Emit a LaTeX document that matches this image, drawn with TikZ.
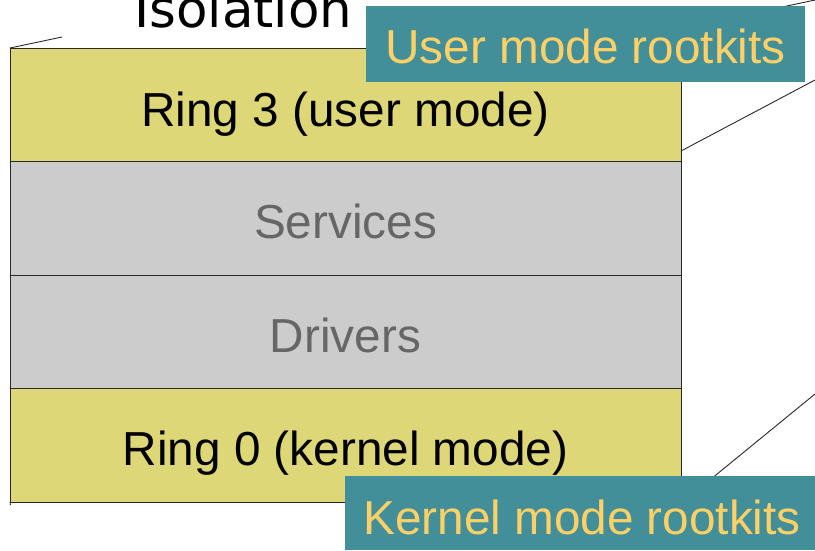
\documentclass[tikz,border=0pt]{standalone}
\usepackage{fontspec}
\setmainfont{Liberation Sans}
\newfontfamily\titlefont{DejaVu Sans}
\definecolor{ringfill}{RGB}{221,215,119}
\definecolor{layerfill}{RGB}{204,204,204}
\definecolor{layertext}{RGB}{102,102,102}
\definecolor{tealbox}{RGB}{66,142,153}
\definecolor{tealtext}{RGB}{255,208,102}
\definecolor{edge}{RGB}{40,40,40}
\begin{document}
\begin{tikzpicture}[x=1pt,y=-1pt,
  band/.style={draw=edge,line width=1pt,minimum width=671pt,minimum height=113.5pt,
    inner sep=0pt,anchor=north west,outer sep=0pt},
  ringband/.style={band,fill=ringfill},
  layerband/.style={band,fill=layerfill},
  bandlabel/.style={anchor=base,font=\fontsize{47.7}{56}\selectfont},
  callout/.style={fill=tealbox,inner sep=0pt,outer sep=0pt,anchor=north west},
  callouttext/.style={anchor=base,text=tealtext,font=\fontsize{47.7}{56}\selectfont},
  persp/.style={draw=edge,line width=0.9pt}]
\useasboundingbox (0,0) rectangle (815,550);

% the four layers of the stack
\node[ringband]  (r3)  at (10,48)    {};
\node[layerband] (svc) at (10,161.5) {};
\node[layerband] (drv) at (10,275)   {};
\node[ringband]  (r0)  at (10,388.5) {};

\node[bandlabel] (r3t)  at (345.5,126) {Ring 3 (user mode)};
\node[bandlabel,text=layertext] (svct) at (345.5,238) {Services};
\node[bandlabel,text=layertext] (drvt) at (345.5,352) {Drivers};
\node[bandlabel] (r0t)  at (345.5,465) {Ring 0 (kernel mode)};

% heading
\node[anchor=base west,inner sep=0pt,font=\titlefont\fontsize{51.5}{60}\selectfont] (iso) at (134,27) {Isolation};

% perspective lines running out of the stack
\coordinate (tl) at (r3.north west);
\coordinate (tlend) at (62,37);
\coordinate (rk) at (681,151);
\coordinate (rkend) at (815,80);
\coordinate (topback) at (700,24.5);
\coordinate (topend) at (815,0);
\coordinate (bk) at (700,488);
\coordinate (bkend) at (815,394);
\coordinate (bl) at (r0.south west);
\coordinate (blend) at (10.5,505);
\draw[persp] (tl) -- (tlend);
\draw[persp] (rk) -- (rkend);
\draw[persp] (topback) -- (topend);
\draw[persp] (bk) -- (bkend);
\draw[persp] (bl) -- (blend);

% callout boxes
\node[callout,minimum width=439pt,minimum height=76pt] (ub) at (366,6) {};
\node[callouttext] (ubt) at (ub.center |- 0,63) {User mode rootkits};
\node[callout,minimum width=470pt,minimum height=74pt] (kb) at (345,476) {};
\node[callouttext] (kbt) at (582,534) {Kernel mode rootkits};
\end{tikzpicture}
\end{document}
